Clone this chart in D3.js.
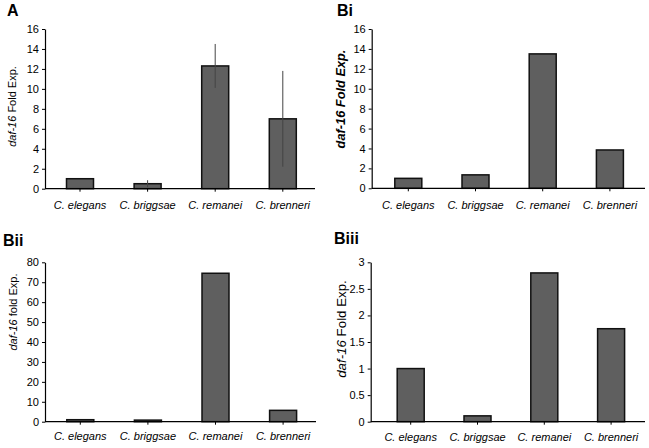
<!DOCTYPE html>
<html><head><meta charset="utf-8">
<script src="https://cdn.jsdelivr.net/npm/d3@7"></script>
<style>
html,body{margin:0;padding:0;background:#fff;}
svg{display:block;font-family:"Liberation Sans",Arial,sans-serif;}
</style></head>
<body>
<svg id="chart" width="649" height="448"></svg>
<script>
const categories = ["C. elegans", "C. briggsae", "C. remanei", "C. brenneri"];
const valuesA = [1.0, 0.5, 12.3, 7.0];
const errorsA = [0, 0.35, 2.2, 4.8];
const valuesBi = [1.0, 1.35, 13.5, 3.85];
const valuesBii = [1.0, 0.8, 74.5, 5.7];
const valuesBiii = [1.0, 0.11, 2.8, 1.75];
const ticksA = [0, 2, 4, 6, 8, 10, 12, 14, 16];
const ticksBi = [0, 2, 4, 6, 8, 10, 12, 14, 16];
const ticksBii = [0, 10, 20, 30, 40, 50, 60, 70, 80];
const ticksBiii = [0, 0.5, 1, 1.5, 2, 2.5, 3];

const svg = d3.select("#chart");

const panels = [
  {title:"A", tx:7, ty:16, values:valuesA, errors:errorsA, ticks:ticksA, max:16,
   axisX:45, top:29, bottom:188.7, right:315, first:80, step:67.6,
   lx:12, ly:106.5, label:"Fold Exp.", bold:false, fs:11, catDy:20.5},
  {title:"Bi", tx:337, ty:16, values:valuesBi, errors:null, ticks:ticksBi, max:16,
   axisX:371.7, top:29, bottom:188.3, right:645, first:408.3, step:67.2,
   lx:341, ly:99, label:"Fold Exp.", bold:true, fs:12.8, catDy:20.5},
  {title:"Bii", tx:3, ty:246, values:valuesBii, errors:null, ticks:ticksBii, max:80,
   axisX:45, top:262.3, bottom:421.7, right:316, first:80.3, step:67.6,
   lx:13, ly:312, label:"fold Exp.", bold:false, fs:11, catDy:18.5},
  {title:"Biii", tx:334, ty:244, values:valuesBiii, errors:null, ticks:ticksBiii, max:3,
   axisX:370.7, top:262.3, bottom:421.7, right:645, first:410.7, step:66.8,
   lx:341, ly:329, label:"Fold Exp.", bold:false, fs:13.3, catDy:19.5}
];

panels.forEach(p => {
  const g = svg.append("g");
  const y = d3.scaleLinear().domain([0, p.max]).range([p.bottom, p.top]);
  const x = d3.scaleBand().domain(categories)
    .range([p.first - p.step/2, p.first + 3.5*p.step])
    .paddingInner(0.6).paddingOuter(0.3);
  const cx = i => x(categories[i]) + x.bandwidth()/2;

  // title
  g.append("text").attr("x", p.tx).attr("y", p.ty)
    .attr("font-size", 16).attr("font-weight", "bold").attr("fill", "#000").text(p.title);

  // bars
  g.selectAll("rect.bar").data(p.values).enter().append("rect")
    .attr("x", (d,i) => cx(i) - 13.5)
    .attr("width", 27)
    .attr("y", d => y(d))
    .attr("height", d => y(0) - y(d))
    .attr("fill", "#5f5f5f").attr("stroke", "#111").attr("stroke-width", 1.5);

  // error bars
  if (p.errors) {
    p.values.forEach((v,i) => {
      if (p.errors[i] > 0) {
        g.append("line").attr("x1", cx(i)).attr("x2", cx(i))
          .attr("y1", y(v - p.errors[i])).attr("y2", y(v + p.errors[i]))
          .attr("stroke", "#444").attr("stroke-width", 1);
      }
    });
  }

  // y axis
  const ya = g.append("g").attr("transform", `translate(${p.axisX},0)`)
    .call(d3.axisLeft(y).tickValues(p.ticks).tickSize(3).tickSizeOuter(0).tickPadding(3)
      .tickFormat(d => String(d)));
  ya.select(".domain").attr("stroke", "#000").attr("stroke-width", 1.2);
  ya.selectAll(".tick line").attr("stroke", "#000");
  ya.selectAll(".tick text").attr("font-family", "Liberation Sans, Arial, sans-serif")
    .attr("font-size", 11).attr("fill", "#000");

  // x axis
  const xa = g.append("g").attr("transform", `translate(0,${p.bottom})`)
    .call(d3.axisBottom(x).tickSize(3).tickSizeOuter(0).tickPadding(0));
  xa.select(".domain").remove();
  xa.selectAll(".tick line").attr("stroke", "#000");
  xa.selectAll(".tick text").attr("font-family", "Liberation Sans, Arial, sans-serif")
    .attr("font-size", 11).attr("font-style", "italic").attr("fill", "#000")
    .attr("dy", null).attr("y", p.catDy);
  g.append("line").attr("x1", p.axisX).attr("x2", p.right)
    .attr("y1", p.bottom).attr("y2", p.bottom).attr("stroke", "#000").attr("stroke-width", 1.2);

  // y label
  const t = g.append("text")
    .attr("transform", `translate(${p.lx},${p.ly}) rotate(-90)`)
    .attr("text-anchor", "middle").attr("dy", "0.35em")
    .attr("font-size", p.fs).attr("fill", "#000")
    .attr("font-weight", p.bold ? "bold" : "normal");
  t.append("tspan").attr("font-style", "italic").text("daf-16 ");
  t.append("tspan").attr("font-style", p.bold ? "italic" : "normal").text(p.label);
});
</script>
</body></html>
